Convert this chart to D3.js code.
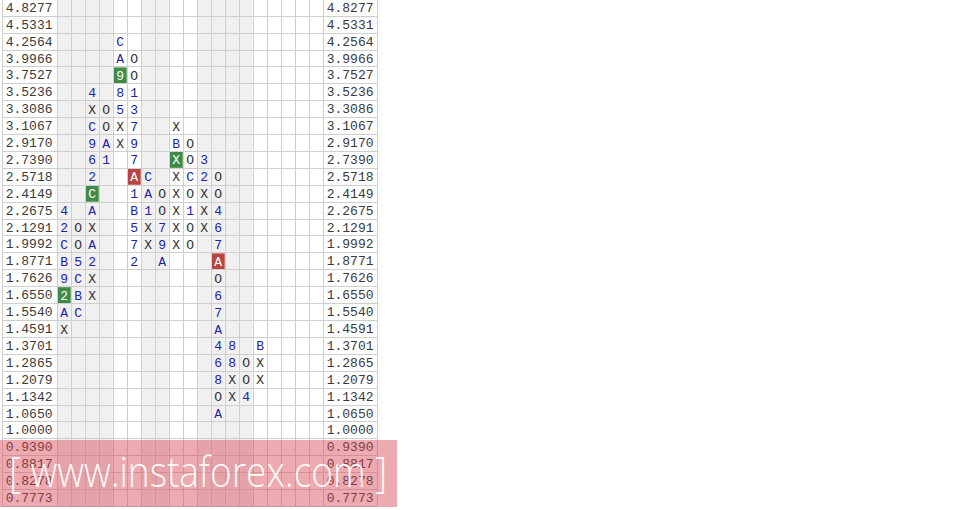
<!DOCTYPE html>
<html><head><meta charset="utf-8">
<script src="https://cdn.jsdelivr.net/npm/d3@7"></script>
<style>body{margin:0;background:#fff;}svg{display:block;}</style>
</head><body><svg id="chart" width="960" height="510"></svg>
<script>
// price levels (box values), top to bottom
const priceLevels = ["4.8277","4.5331","4.2564","3.9966","3.7527","3.5236","3.3086","3.1067","2.9170","2.7390",
  "2.5718","2.4149","2.2675","2.1291","1.9992","1.8771","1.7626","1.6550","1.5540","1.4591",
  "1.3701","1.2865","1.2079","1.1342","1.0650","1.0000","0.9390","0.8817","0.8278","0.7773"];
const columnCount = 19;
// each column: top box level and boxes from top downward
const col0  = {top:"2.2675", boxes:["4","2","C","B","9","2","A","X"]};
const col1  = {top:"2.1291", boxes:["O","O","5","C","B","C"]};
const col2  = {top:"3.5236", boxes:["4","X","C","9","6","2","C","A","X","A","2","X","X"]};
const col3  = {top:"3.3086", boxes:["O","O","A","1"]};
const col4  = {top:"4.2564", boxes:["C","A","9","8","5","X","X"]};
const col5  = {top:"3.9966", boxes:["O","O","1","3","7","9","7","A","1","B","5","7","2"]};
const col6  = {top:"2.5718", boxes:["C","A","1","X","X"]};
const col7  = {top:"2.4149", boxes:["O","O","7","9","A"]};
const col8  = {top:"3.1067", boxes:["X","B","X","X","X","X","X","X"]};
const col9  = {top:"2.9170", boxes:["O","O","C","O","1","O","O"]};
const col10 = {top:"2.7390", boxes:["3","2","X","X","X"]};
const col11 = {top:"2.5718", boxes:["O","O","4","6","7","A","O","6","7","A","4","6","8","O","A"]};
const col12 = {top:"1.3701", boxes:["8","8","X","X"]};
const col13 = {top:"1.2865", boxes:["O","O","4"]};
const col14 = {top:"1.3701", boxes:["B","X","X"]};
const columns = [col0,col1,col2,col3,col4,col5,col6,col7,col8,col9,col10,col11,col12,col13,col14];
// highlighted boxes [column, level]
const greenBoxes = [[4,"3.7527"],[2,"2.4149"],[0,"1.6550"],[8,"2.7390"]];
const redBoxes = [[5,"2.5718"],[11,"1.8771"]];
// shaded (grey) columns
const shadedColumns = [0,1,2,3,6,7,10,11,12,13];
const watermark = "[ www.instaforex.com ]";

const svg = d3.select("#chart");
const colIdx = d3.range(columnCount);
const y = d3.scaleBand().domain(priceLevels).range([-1.2, 506]);
const x = d3.scaleBand().domain(colIdx).range([56.7, 322.7]);
const leftLab = [1.7, 56.7], rightLab = [322.7, 376.7];
const gridColor = "#cfcfcf";
const font = "'Liberation Mono','Courier New',monospace";

// column backgrounds
svg.append("g").selectAll("rect").data(colIdx).join("rect")
  .attr("x", d => x(d)).attr("y", y.range()[0]).attr("width", x.bandwidth())
  .attr("height", y.range()[1]-y.range()[0])
  .attr("fill", d => shadedColumns.includes(d) ? "#f0f0f0" : "#ffffff");

// highlighted boxes
const hl = greenBoxes.map(d => ({c:d[0], l:d[1], color:"#3f8a46"}))
  .concat(redBoxes.map(d => ({c:d[0], l:d[1], color:"#b8453f"})));
svg.append("g").selectAll("rect").data(hl).join("rect")
  .attr("x", d => x(d.c)+1).attr("y", d => y(d.l)+1)
  .attr("width", x.bandwidth()-1).attr("height", y.bandwidth()-1)
  .attr("fill", d => d.color);

// grid lines
const grid = svg.append("g").attr("stroke", gridColor).attr("stroke-width", 1).attr("shape-rendering","crispEdges");
const ys = priceLevels.map(l => y(l)).concat([y.range()[1]]);
grid.selectAll("line.h").data(ys).join("line").attr("class","h")
  .attr("x1", leftLab[0]).attr("x2", rightLab[1])
  .attr("y1", d => Math.round(d)+0.5).attr("y2", d => Math.round(d)+0.5);
const xs = [leftLab[0]].concat(colIdx.map(c => x(c))).concat([x.range()[1], rightLab[1]]);
grid.selectAll("line.v").data(xs).join("line").attr("class","v")
  .attr("y1", y.range()[0]).attr("y2", y.range()[1])
  .attr("x1", d => Math.round(d)+0.5).attr("x2", d => Math.round(d)+0.5);

// price labels
[leftLab, rightLab].forEach(r => {
  svg.append("g").selectAll("text").data(priceLevels).join("text")
    .attr("x", r[0]+4).attr("y", d => y(d)+y.bandwidth()/2).attr("dy","0.35em")
    .attr("font-family", font).attr("font-size", 13).attr("fill", "#3a3a3a")
    .text(d => d);
});

// boxes
const boxes = [];
columns.forEach((col, ci) => {
  const start = priceLevels.indexOf(col.top);
  col.boxes.forEach((b, k) => boxes.push({c:ci, l:priceLevels[start+k], ch:b}));
});
const isHl = d => hl.some(h => h.c===d.c && h.l===d.l);
svg.append("g").selectAll("text").data(boxes).join("text")
  .attr("x", d => x(d.c)+x.bandwidth()/2+0.5).attr("y", d => y(d.l)+y.bandwidth()/2+0.5)
  .attr("dy","0.35em").attr("text-anchor","middle")
  .attr("font-family", font).attr("font-size", 13)
  .attr("fill", d => isHl(d) ? "#ffffff" : (d.ch==="X"||d.ch==="O") ? "#333333" : "#2323a8")
  .text(d => d.ch);

// watermark
const wm = svg.append("g");
wm.append("rect").attr("x", 0).attr("y", 440).attr("width", 397).attr("height", 67)
  .attr("fill", "#d8434f").attr("opacity", 0.45);
wm.append("text").attr("x", 198).attr("y", 487).attr("text-anchor","middle")
  .attr("font-family","'Open Sans','Noto Sans',sans-serif").attr("font-weight",300)
  .attr("font-size", 43).attr("fill","#ffffff").attr("opacity",0.92)
  .attr("textLength", 378).attr("lengthAdjust","spacingAndGlyphs")
  .text(watermark);
</script></body></html>
